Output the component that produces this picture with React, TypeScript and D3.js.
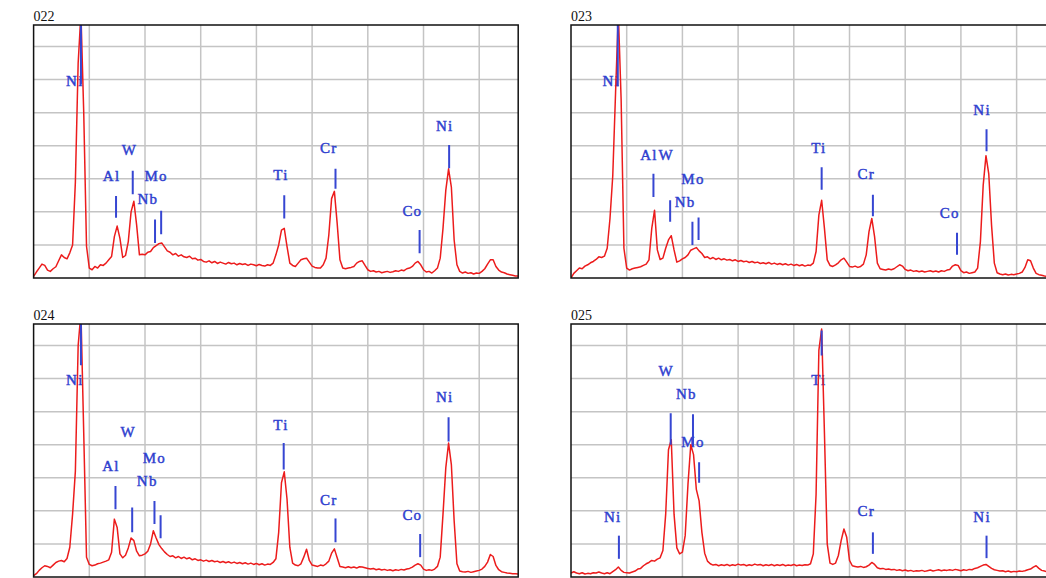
import React, { useEffect, useRef } from 'react';
import * as d3 from 'd3';

// EDS spectra, 0.05 keV per channel, counts scaled so one grid row = 100
const ENERGY_STEP = 0.05;
const ENERGY_MAX = 8.7;
const COUNT_MAX = 765;
const gridEnergies = [1, 2, 3, 4, 5, 6, 7, 8];
const gridCounts = [100, 200, 300, 400, 500, 600, 700];
const panelIds = ['022', '023', '024', '025'];

const counts022 = [
  5, 18, 30, 42, 38, 24, 20, 28, 34, 52, 70, 62, 58, 76, 100, 290, 650, 800, 500, 96,
  30, 25, 35, 30, 40, 38, 45, 55, 65, 125, 157, 120, 62, 68, 110, 200, 232, 160, 70, 72,
  70, 78, 80, 92, 98, 104, 106, 94, 82, 78, 70, 74, 66, 70, 64, 62, 66, 58, 60, 54,
  56, 50, 48, 52, 46, 50, 44, 48, 45, 42, 47, 43, 45, 40, 44, 41, 43, 38, 42, 40,
  37, 41, 38, 36, 40, 38, 45, 70, 100, 145, 150, 95, 45, 38, 35, 45, 55, 58, 60, 48,
  36, 32, 30, 30, 40, 60, 130, 240, 262, 165, 55, 30, 28, 30, 32, 35, 45, 50, 52, 38,
  25, 20, 22, 18, 20, 16, 18, 20, 17, 19, 22, 20, 24, 22, 28, 30, 35, 45, 50, 40,
  25, 18, 20, 15, 22, 30, 60, 150, 265, 330, 275, 115, 40, 20, 15, 18, 14, 16, 12, 15,
  14, 20, 28, 42, 55, 55, 35, 24, 18, 16, 12, 10, 8, 6, 6,
];

const counts023 = [
  0, 14, 22, 30, 28, 36, 40, 46, 50, 56, 64, 62, 66, 90, 180, 310, 560, 800, 540, 90,
  30, 24, 28, 30, 32, 34, 38, 42, 55, 150, 205, 85, 56, 60, 90, 115, 128, 85, 48, 52,
  58, 62, 70, 84, 88, 92, 82, 74, 62, 64, 58, 62, 56, 60, 55, 58, 54, 56, 52, 55,
  50, 53, 49, 51, 47, 50, 46, 48, 44, 46, 43, 47, 42, 45, 41, 44, 40, 43, 39, 42,
  38, 41, 37, 40, 36, 39, 38, 45, 80, 190, 235, 150, 55, 38, 35, 40, 46, 55, 60, 48,
  35, 33, 36, 32, 35, 42, 70, 140, 180, 125, 45, 28, 26, 24, 27, 25, 28, 34, 40, 36,
  26, 22, 24, 20, 22, 19, 21, 18, 20, 22, 19, 21, 18, 22, 20, 24, 26, 36, 40, 38,
  22, 16, 18, 14, 16, 18, 30, 110, 280, 370, 315, 160, 45, 16, 12, 10, 12, 9, 11, 10,
  12, 14, 18, 32, 55, 52, 30, 14, 10, 8, 6, 5, 5, 4, 4,
];

const counts024 = [
  4, 10, 20, 28, 34, 32, 28, 36, 44, 48, 50, 46, 56, 90, 190, 320, 700, 800, 435, 60,
  38, 34, 36, 40, 42, 45, 48, 52, 75, 175, 150, 70, 58, 66, 88, 118, 110, 78, 64, 66,
  70, 78, 100, 140, 118, 98, 86, 76, 68, 62, 64, 58, 62, 56, 60, 55, 58, 52, 55, 50,
  52, 48, 51, 47, 50, 46, 48, 44, 47, 43, 46, 42, 45, 41, 44, 40, 43, 39, 42, 38,
  41, 37, 40, 36, 39, 38, 44, 55, 135, 285, 318, 235, 90, 42, 36, 34, 40, 60, 84, 50,
  36, 34, 32, 36, 34, 40, 48, 72, 85, 58, 32, 30, 28, 31, 28, 30, 27, 31, 30, 28,
  26, 24, 26, 22, 24, 21, 23, 20, 22, 19, 22, 20, 23, 21, 24, 26, 30, 36, 40, 36,
  24, 20, 22, 20, 24, 32, 60, 190, 330, 405, 340, 170, 40, 18, 16, 15, 17, 14, 16, 18,
  20, 24, 32, 45, 68, 62, 35, 22, 16, 14, 12, 11, 10, 10, 9,
];

const counts025 = [
  12, 16, 12, 10, 13, 9, 11, 10, 13, 12, 15, 12, 10, 13, 10, 16, 22, 30, 20, 14,
  13, 12, 15, 18, 24, 26, 34, 40, 44, 50, 48, 54, 58, 80, 190, 385, 415, 190, 88, 70,
  75, 125, 280, 400, 370, 265, 230, 135, 72, 48, 40, 36, 38, 34, 37, 35, 38, 34, 37, 35,
  39, 36, 38, 34, 37, 35, 39, 36, 38, 34, 37, 35, 38, 34, 37, 35, 38, 34, 36, 35,
  38, 34, 36, 35, 37, 36, 40, 70, 250, 685, 750, 435, 100, 42, 38, 42, 65, 110, 145, 120,
  50, 34, 32, 30, 32, 29, 31, 36, 44, 38, 28, 25, 26, 23, 24, 22, 23, 20, 22, 19,
  21, 18, 20, 17, 19, 18, 20, 17, 19, 21, 18, 20, 22, 19, 21, 20, 22, 20, 23, 21,
  19, 22, 20, 23, 22, 26, 28, 32, 36, 38, 32, 26, 22, 20, 18, 19, 16, 18, 15, 17,
  16, 18, 17, 19, 22, 24, 30, 34, 26, 20, 18, 16, 15, 14, 13,
];

// element markers: line energy, line from lo to hi counts, label centre energy + baseline count
const markers022 = [
  { el: 'Ni', e: 0.85, lo: 585, hi: 800, lx: 0.74, ly: 580 },
  { el: 'Al', e: 1.48, lo: 182, hi: 248, lx: 1.40, ly: 294 },
  { el: 'W', e: 1.78, lo: 253, hi: 324, lx: 1.72, ly: 372 },
  { el: 'Nb', e: 2.18, lo: 106, hi: 177, lx: 2.05, ly: 223 },
  { el: 'Mo', e: 2.29, lo: 132, hi: 203, lx: 2.20, ly: 292 },
  { el: 'Ti', e: 4.50, lo: 180, hi: 250, lx: 4.44, ly: 295 },
  { el: 'Cr', e: 5.42, lo: 270, hi: 330, lx: 5.30, ly: 377 },
  { el: 'Co', e: 6.93, lo: 75, hi: 145, lx: 6.80, ly: 187 },
  { el: 'Ni', e: 7.46, lo: 332, hi: 402, lx: 7.38, ly: 445 },
];

const markers023 = [
  { el: 'Ni', e: 0.84, lo: 580, hi: 800, lx: 0.72, ly: 580 },
  { el: 'Al', e: 1.48, lo: 245, hi: 315, lx: 1.40, ly: 357 },
  { el: 'W', e: 1.78, lo: 170, hi: 235, lx: 1.71, ly: 357 },
  { el: 'Nb', e: 2.18, lo: 100, hi: 170, lx: 2.05, ly: 215 },
  { el: 'Mo', e: 2.29, lo: 115, hi: 183, lx: 2.19, ly: 285 },
  { el: 'Ti', e: 4.50, lo: 267, hi: 335, lx: 4.45, ly: 377 },
  { el: 'Cr', e: 5.42, lo: 187, hi: 252, lx: 5.30, ly: 298 },
  { el: 'Co', e: 6.93, lo: 70, hi: 137, lx: 6.80, ly: 180 },
  { el: 'Ni', e: 7.46, lo: 383, hi: 450, lx: 7.38, ly: 493 },
];

const markers024 = [
  { el: 'Ni', e: 0.85, lo: 640, hi: 800, lx: 0.74, ly: 580 },
  { el: 'Al', e: 1.47, lo: 205, hi: 275, lx: 1.39, ly: 320 },
  { el: 'W', e: 1.77, lo: 135, hi: 210, lx: 1.70, ly: 423 },
  { el: 'Nb', e: 2.17, lo: 160, hi: 230, lx: 2.04, ly: 275 },
  { el: 'Mo', e: 2.28, lo: 117, hi: 187, lx: 2.17, ly: 345 },
  { el: 'Ti', e: 4.49, lo: 325, hi: 405, lx: 4.44, ly: 445 },
  { el: 'Cr', e: 5.42, lo: 105, hi: 177, lx: 5.30, ly: 217 },
  { el: 'Co', e: 6.94, lo: 60, hi: 130, lx: 6.80, ly: 173 },
  { el: 'Ni', e: 7.45, lo: 410, hi: 483, lx: 7.38, ly: 528 },
];

const markers025 = [
  { el: 'Ni', e: 0.86, lo: 55, hi: 125, lx: 0.75, ly: 167 },
  { el: 'W', e: 1.79, lo: 400, hi: 495, lx: 1.71, ly: 607 },
  { el: 'Nb', e: 2.19, lo: 395, hi: 492, lx: 2.07, ly: 537 },
  { el: 'Mo', e: 2.30, lo: 285, hi: 347, lx: 2.19, ly: 392 },
  { el: 'Ti', e: 4.50, lo: 670, hi: 745, lx: 4.45, ly: 580 },
  { el: 'Cr', e: 5.42, lo: 70, hi: 135, lx: 5.30, ly: 185 },
  { el: 'Ni', e: 7.46, lo: 57, hi: 125, lx: 7.38, ly: 167 },
];

const spectra = [counts022, counts023, counts024, counts025];
const markerSets = [markers022, markers023, markers024, markers025];

const App = () => {
  const ref = useRef<SVGSVGElement | null>(null);

  useEffect(() => {
    drawChart();
  }, []);

  const drawChart = () => {
    const svg = d3.select(ref.current);
    svg.selectAll('*').remove();

    const plotW = 484.6;
    const plotH = 253;
    const origins = [
      { x: 33.6, y: 25 },
      { x: 571, y: 25 },
      { x: 33.6, y: 324 },
      { x: 571, y: 324 },
    ];

    const x = d3.scaleLinear().domain([0, ENERGY_MAX]).range([0, plotW]);
    const y = d3.scaleLinear().domain([0, COUNT_MAX]).range([plotH, 0]);

    panelIds.forEach((id, i) => {
      const o = origins[i];
      const g = svg.append('g').attr('transform', `translate(${o.x},${o.y})`);

      g.append('text')
        .attr('x', 0)
        .attr('y', -4)
        .attr('font-family', 'Liberation Serif, serif')
        .attr('font-size', 14)
        .attr('fill', '#111')
        .text(id);

      g.append('clipPath')
        .attr('id', `clip${id}`)
        .append('rect')
        .attr('width', plotW)
        .attr('height', plotH);

      g.selectAll('.vgrid')
        .data(gridEnergies)
        .enter().append('line')
        .attr('x1', d => x(d)).attr('x2', d => x(d))
        .attr('y1', 0).attr('y2', plotH)
        .attr('stroke', '#c4c4c4')
        .attr('stroke-width', 1.5);

      g.selectAll('.hgrid')
        .data(gridCounts)
        .enter().append('line')
        .attr('x1', 0).attr('x2', plotW)
        .attr('y1', d => y(d)).attr('y2', d => y(d))
        .attr('stroke', '#c4c4c4')
        .attr('stroke-width', 1.5);

      const inner = g.append('g').attr('clip-path', `url(#clip${id})`);
      const marks = markerSets[i];

      inner.selectAll('.lbl')
        .data(marks)
        .enter().append('text')
        .attr('x', d => x(d.lx))
        .attr('y', d => y(d.ly))
        .attr('text-anchor', 'middle')
        .attr('font-family', 'Liberation Serif, serif')
        .attr('font-size', 15)
        .attr('letter-spacing', 1.2)
        .attr('fill', '#2f3fcf')
        .attr('stroke', '#2f3fcf')
        .attr('stroke-width', 0.45)
        .text(d => d.el);

      const line = d3.line<number>()
        .x((d, j) => x(j * ENERGY_STEP))
        .y(d => y(d));

      inner.append('path')
        .datum(spectra[i])
        .attr('d', line)
        .attr('fill', 'none')
        .attr('stroke', '#ec1c1c')
        .attr('stroke-width', 1.5)
        .attr('stroke-linejoin', 'round');

      inner.selectAll('.mk')
        .data(marks)
        .enter().append('line')
        .attr('x1', d => x(d.e)).attr('x2', d => x(d.e))
        .attr('y1', d => y(d.lo)).attr('y2', d => y(d.hi))
        .attr('stroke', '#3646d2')
        .attr('stroke-width', 2);

      g.append('rect')
        .attr('width', plotW)
        .attr('height', plotH)
        .attr('fill', 'none')
        .attr('stroke', '#111')
        .attr('stroke-width', 1.5);
    });
  };

  return (
    <svg
      ref={ref}
      width={1046}
      height={578}
      style={{ position: 'absolute', left: 0, top: 0, background: '#fff' }}
    />
  );
};

export default App;
